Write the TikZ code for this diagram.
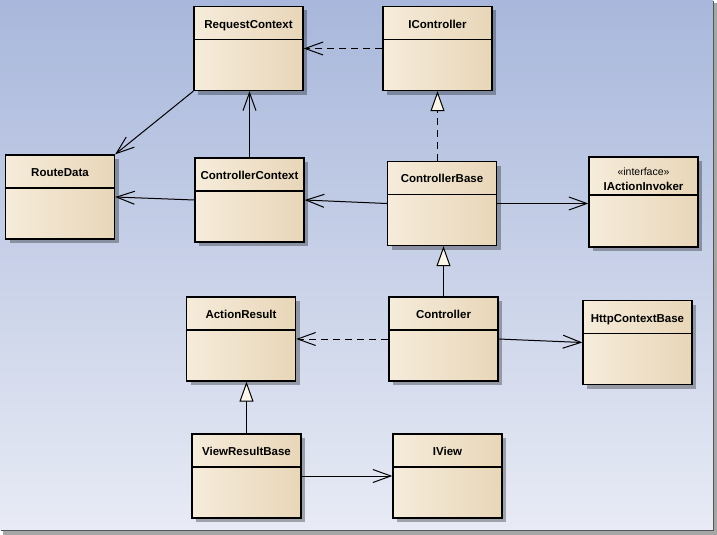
\documentclass[tikz,border=0pt]{standalone}
\usepackage{fontspec}
\newfontfamily\umlfont{Liberation Sans}
\usetikzlibrary{arrows.meta,shadows}
\definecolor{bgtop}{HTML}{A8B7DB}
\definecolor{bgbot}{HTML}{E8EBF5}
\definecolor{clsleft}{HTML}{F6ECDB}
\definecolor{clsmid}{HTML}{FCF5EA}
\definecolor{clsright}{HTML}{E8D6B8}
\definecolor{framegray}{HTML}{555555}
\begin{document}
\begin{tikzpicture}[x=1pt,y=-1pt,font=\umlfont\fontsize{11.5}{13}\selectfont,
  cls/.style={draw,line width=1.3pt,minimum width=109pt,minimum height=84pt,inner sep=0pt,
    left color=clsleft,middle color=clsmid,right color=clsright,
    drop shadow={shadow xshift=4pt,shadow yshift=-4pt,opacity=0.3,fill=black},
    path picture={\draw[line width=1.3pt] ([yshift=-#1]path picture bounding box.north west) -- ([yshift=-#1]path picture bounding box.north east);}},
  cls/.default=33pt,
  clsname/.style={font=\umlfont\bfseries\fontsize{11.5}{13}\selectfont,anchor=base,inner sep=0pt},
  stereo/.style={font=\umlfont\fontsize{10.5}{12}\selectfont,anchor=base,inner sep=0pt},
  assoc/.style={line width=1pt,-{Straight Barb[length=18pt,width=13pt,line width=1pt]}},
  dep/.style={assoc,dash pattern=on 7pt off 5pt},
  gen/.style={line width=1pt,-{Triangle[open,length=20pt,width=14pt,line width=1pt,fill=clsmid]}},
  real/.style={gen,dash pattern=on 7pt off 5pt}]
\useasboundingbox (0,0) rectangle (717,535);
% background and frame
\shade[top color=bgtop,bottom color=bgbot] (0,0) rectangle (713,530);
\fill[black!35] (714,3) rectangle (717,535);
\fill[black!35] (3,531) rectangle (717,535);
\draw[framegray,line width=1.5pt] (713.25,1) -- (713.25,530.25) -- (1,530.25);

% classes
\node[cls] (reqctx) at (248.5,48.5) {};
\node[clsname] (reqctxname) at ([yshift=-22.5pt]reqctx.north) {RequestContext};
\node[cls] (icontroller) at (437.5,48.5) {};
\node[clsname] (icontrollername) at ([yshift=-22.5pt]icontroller.north) {IController};
\node[cls] (routedata) at (60,197) {};
\node[clsname] (routedataname) at ([yshift=-22.5pt]routedata.north) {RouteData};
\node[cls] (ctrlctx) at (249.5,200) {};
\node[clsname] (ctrlctxname) at ([yshift=-22.5pt]ctrlctx.north) {ControllerContext};
\node[cls] (ctrlbase) at (442,203.5) {};
\node[clsname] (ctrlbasename) at ([yshift=-22pt]ctrlbase.north) {ControllerBase};
\node[cls=38pt,minimum height=90pt] (iactinv) at (643.5,202) {};
\node[stereo] (iactinvstereo) at ([yshift=-19pt]iactinv.north) {«interface»};
\node[clsname] (iactinvname) at ([yshift=-34pt]iactinv.north) {IActionInvoker};
\node[cls] (actres) at (241,339) {};
\node[clsname] (actresname) at ([yshift=-22.5pt]actres.north) {ActionResult};
\node[cls] (controller) at (443.5,339) {};
\node[clsname] (controllername) at ([yshift=-22.5pt]controller.north) {Controller};
\node[cls] (httpctx) at (637.5,342.5) {};
\node[clsname] (httpctxname) at ([yshift=-22.5pt]httpctx.north) {HttpContextBase};
\node[cls] (viewres) at (246.5,476) {};
\node[clsname] (viewresname) at ([yshift=-22.5pt]viewres.north) {ViewResultBase};
\node[cls] (iview) at (447.5,476) {};
\node[clsname] (iviewname) at ([yshift=-22.5pt]iview.north) {IView};

% relations
\draw[dep] (icontroller) -- (reqctx);
\draw[real] (icontroller.south |- ctrlbase.north) -- (icontroller.south);
\draw[assoc] (ctrlctx.north) -- (ctrlctx.north |- reqctx.south);
\draw[assoc] (reqctx.south west) -- (routedata.north east);
\draw[assoc] (ctrlctx.west) -- (routedata.east);
\draw[assoc] (ctrlbase.west) -- (ctrlctx.east);
\draw[assoc] (ctrlbase.east) -- (iactinv.west |- ctrlbase.east);
\draw[gen] (controller.north) -- (controller.north |- ctrlbase.south);
\draw[dep] (controller) -- (actres);
\draw[assoc] (controller.east) -- (httpctx.west);
\draw[gen] (viewres.north) -- (viewres.north |- actres.south);
\draw[assoc] (viewres) -- (iview);
\end{tikzpicture}
\end{document}
